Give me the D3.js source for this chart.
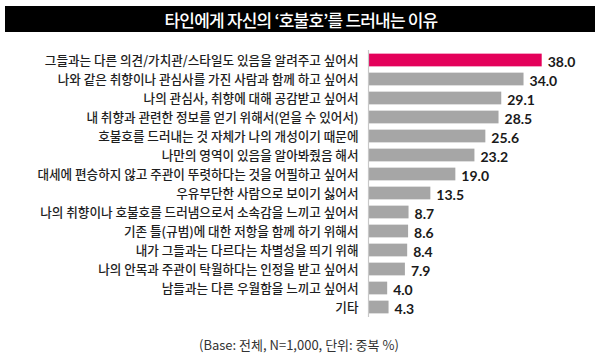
<!DOCTYPE html>
<html><head><meta charset="utf-8">
<script src="https://cdn.jsdelivr.net/npm/d3@7/dist/d3.min.js"></script>
<style>
html,body{margin:0;padding:0;background:#fff;}
svg{display:block;}
</style></head>
<body>
<svg id="chart" width="600" height="359"></svg>
<script>
const title = "타인에게 자신의 ‘호불호’를 드러내는 이유";
const footnote = "(Base: 전체, N=1,000, 단위: 중복 %)";
const categories = [
  "그들과는 다른 의견/가치관/스타일도 있음을 알려주고 싶어서",
  "나와 같은 취향이나 관심사를 가진 사람과 함께 하고 싶어서",
  "나의 관심사, 취향에 대해 공감받고 싶어서",
  "내 취향과 관련한 정보를 얻기 위해서(얻을 수 있어서)",
  "호불호를 드러내는 것 자체가 나의 개성이기 때문에",
  "나만의 영역이 있음을 알아봐줬음 해서",
  "대세에 편승하지 않고 주관이 뚜렷하다는 것을 어필하고 싶어서",
  "우유부단한 사람으로 보이기 싫어서",
  "나의 취향이나 호불호를 드러냄으로서 소속감을 느끼고 싶어서",
  "기존 틀(규범)에 대한 저항을 함께 하기 위해서",
  "내가 그들과는 다르다는 차별성을 띄기 위해",
  "나의 안목과 주관이 탁월하다는 인정을 받고 싶어서",
  "남들과는 다른 우월함을 느끼고 싶어서",
  "기타"
];
const values = [38.0, 34.0, 29.1, 28.5, 25.6, 23.2, 19.0, 13.5, 8.7, 8.6, 8.4, 7.9, 4.0, 4.3];
const valueLabels = ["38.0","34.0","29.1","28.5","25.6","23.2","19.0","13.5","8.7","8.6","8.4","7.9","4.0","4.3"];

const svg = d3.select("#chart");

// title bar
svg.append("rect").attr("x", 5).attr("y", 6).attr("width", 590).attr("height", 26).attr("fill", "#000");
svg.append("text").attr("x", 301).attr("y", 19.5)
  .attr("text-anchor", "middle").attr("dominant-baseline", "central")
  .attr("fill", "#fff")
  .style("font-family", "'Noto Sans CJK KR', sans-serif")
  .style("font-size", "17px").style("font-weight", 500).style("letter-spacing", "-0.8px")
  .text(title);

const x = d3.scaleLinear().domain([0, 38]).range([369, 541.7]);
const y = d3.scaleBand().domain(categories).range([50.5, 316.5]).paddingInner(0.33).paddingOuter(0.165);

// bars
svg.append("g").selectAll("rect").data(categories).join("rect")
  .attr("x", x(0))
  .attr("y", d => y(d))
  .attr("width", (d, i) => x(values[i]) - x(0))
  .attr("height", y.bandwidth())
  .attr("fill", (d, i) => i === 0 ? "#e4005a" : "#a6a6a6");

// axis line and category labels
const axis = d3.axisLeft(y).tickSize(0).tickPadding(10);
const gAxis = svg.append("g").attr("transform", `translate(${x(0) - 0.5},0)`).call(axis);
gAxis.select(".domain").attr("stroke", "#c8c8c8").attr("stroke-width", 1.2)
  .attr("d", "M0,50V317");
gAxis.selectAll(".tick text")
  .attr("fill", "#1e1e1e")
  .style("font-family", "'Noto Sans CJK KR', sans-serif")
  .style("font-size", "12.6px").style("font-weight", 500)
  .attr("dy", "0.36em");

// value labels
svg.append("g").selectAll("text").data(categories).join("text")
  .attr("x", (d, i) => x(values[i]) + 6)
  .attr("y", d => y(d) + y.bandwidth() / 2 + 1.5)
  .attr("dominant-baseline", "central")
  .attr("fill", "#1a1a1a")
  .style("font-family", "Lato, sans-serif")
  .style("font-size", "14px").style("font-weight", 700)
  .text((d, i) => valueLabels[i]);

// footnote
svg.append("text").attr("x", 199).attr("y", 344)
  .attr("dominant-baseline", "central")
  .attr("fill", "#333")
  .style("font-family", "'Noto Sans CJK KR', sans-serif")
  .style("font-size", "13px")
  .text(footnote);
</script>
</body></html>
